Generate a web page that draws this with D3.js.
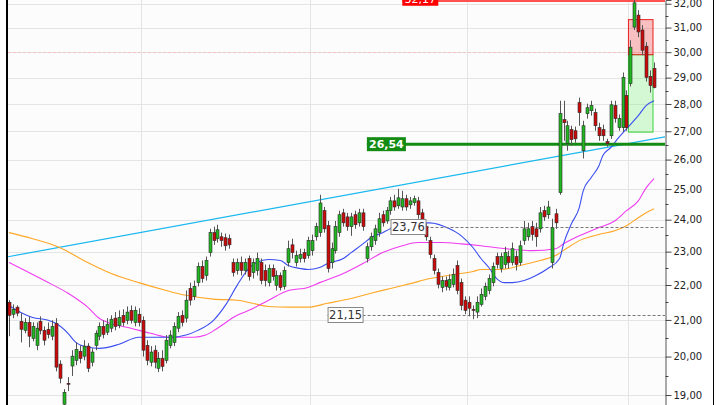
<!DOCTYPE html>
<html><head><meta charset="utf-8">
<script src="https://cdn.jsdelivr.net/npm/d3@7"></script>
<style>html,body{margin:0;padding:0;background:#fff;} svg{display:block;}</style>
</head><body>
<svg id="c" width="720" height="405"></svg>
<script>
// ---------- DATA ----------
const opens = [21.50,21.16,21.36,20.96,20.71,20.93,20.49,20.30,20.96,20.71,20.74,20.55,20.90,19.80,18.77,19.30,19.75,19.90,20.14,20.01,
20.28,19.85,20.30,20.55,20.82,20.66,20.77,21.05,20.85,21.13,20.99,21.27,20.93,21.16,20.99,20.30,19.85,20.17,19.69,19.95,
19.90,20.30,20.38,20.77,21.13,21.05,21.90,21.67,22.07,22.55,22.28,22.97,23.59,23.40,23.46,23.43,23.40,22.67,22.43,22.67,
22.43,22.79,22.37,22.43,22.67,22.43,22.07,22.49,21.99,22.28,21.96,22.67,23.21,22.67,22.79,22.97,22.88,23.03,23.46,23.59,
24.29,23.81,22.67,23.03,23.59,24.22,24.09,23.78,24.16,23.90,24.22,22.79,23.15,23.34,23.59,24.16,23.96,24.29,24.61,24.45,
24.41,24.68,24.48,24.55,24.61,24.22,23.78,23.34,22.79,22.37,21.93,22.13,21.93,22.02,22.58,22.07,21.56,21.50,21.30,21.22,21.44,21.67,
21.84,22.07,22.85,22.49,22.61,22.85,22.67,22.85,22.67,23.34,23.46,23.78,23.71,23.71,24.29,24.16,22.67,24.19,24.88,27.42,
26.56,27.06,27.02,28.05,26.31,27.64,27.75,27.68,27.13,27.06,26.63,26.84,27.94,27.13,27.13,28.32,28.77,31.02,31.52,
30.90,30.24,29.05,29.36];
const highs = [21.56,21.44,21.41,21.19,21.05,21.10,20.93,20.93,21.10,20.82,20.93,20.99,21.05,19.90,19.15,19.46,20.17,20.38,20.30,20.44,
20.36,20.22,20.71,20.93,20.99,21.05,21.13,21.22,21.27,21.30,21.38,21.41,21.38,21.33,21.10,20.44,20.28,20.30,20.12,20.17,
20.58,20.71,20.93,21.22,21.27,21.84,22.07,22.13,22.67,22.73,22.85,23.71,23.78,23.84,23.59,23.56,23.53,22.79,22.79,22.85,
22.79,22.88,22.79,22.97,22.79,22.61,22.61,22.61,22.43,22.37,22.55,23.34,23.40,23.03,23.09,23.09,23.46,23.53,23.90,24.81,
24.41,23.96,23.28,23.96,24.29,24.35,24.22,24.22,24.29,24.35,24.35,23.28,23.59,23.84,24.22,24.29,24.41,24.74,24.81,25.01,
24.94,24.81,24.74,24.78,24.74,24.35,23.90,23.46,22.91,22.49,22.25,22.25,22.31,22.49,22.73,22.19,21.67,21.67,21.41,21.67,21.90,22.07,
22.31,22.67,22.97,22.97,23.15,23.03,23.28,23.03,23.34,23.96,23.90,23.96,23.90,24.41,24.45,24.61,24.03,24.35,28.12,28.12,
27.38,27.20,27.17,28.24,27.38,28.01,28.12,27.83,27.31,27.24,26.73,28.12,28.12,27.61,29.20,28.51,30.48,32.16,31.73,
31.10,30.40,29.28,29.59];
const lows = [20.55,21.05,21.10,20.38,20.63,20.25,20.41,20.17,20.60,20.30,20.49,20.44,19.61,19.30,18.62,19.10,19.49,19.77,19.82,19.90,
19.59,19.74,20.17,20.44,20.49,20.58,20.66,20.71,20.77,20.82,20.88,20.90,20.82,20.82,20.00,19.77,19.74,19.69,19.59,19.61,
19.82,20.22,20.28,20.66,20.82,20.93,21.41,21.56,21.96,22.07,22.13,22.85,23.21,23.28,23.15,23.03,23.09,22.25,22.31,22.28,
22.31,22.13,22.19,22.28,22.02,21.96,21.96,22.13,21.84,21.84,21.87,22.55,22.79,22.55,22.67,22.67,22.79,22.88,23.34,23.46,
23.59,22.37,22.49,22.94,23.46,23.78,23.65,23.49,23.71,23.78,23.65,22.67,23.03,23.21,23.46,23.78,23.87,24.16,24.29,24.35,
24.29,24.29,24.35,24.45,24.03,23.71,23.34,22.79,22.31,21.90,21.79,21.84,21.84,21.93,21.73,21.27,21.16,21.10,21.02,21.05,21.38,21.56,
21.73,21.96,22.49,22.37,22.49,22.49,22.58,22.43,22.58,23.21,23.34,23.34,23.15,23.59,23.96,24.03,22.49,23.71,24.81,26.66,
26.31,26.49,26.59,27.20,26.04,27.46,27.57,27.02,26.66,26.66,26.45,26.73,27.31,27.02,26.98,27.02,28.66,30.90,30.61,
29.88,28.85,28.43,28.59];
const closes = [21.13,21.30,21.19,20.74,20.93,20.55,20.82,20.77,20.71,20.44,20.60,20.82,19.72,19.43,19.07,19.28,20.01,20.19,19.95,20.28,
19.69,20.12,20.63,20.82,20.60,20.88,21.02,20.82,21.07,20.93,21.22,20.99,21.27,20.93,20.17,19.90,20.12,19.85,19.95,19.74,
20.44,20.58,20.82,21.10,20.93,21.56,21.56,21.96,22.55,22.19,22.73,23.59,23.34,23.68,23.34,23.18,23.21,22.37,22.67,22.43,
22.67,22.25,22.67,22.79,22.13,22.13,22.49,22.25,22.28,21.93,22.43,23.09,22.97,22.88,22.91,22.79,23.34,23.34,23.78,24.54,
23.71,22.49,23.09,23.78,24.16,23.90,23.78,24.09,23.84,24.22,23.78,23.15,23.46,23.71,24.03,23.90,24.29,24.61,24.41,24.71,
24.68,24.41,24.61,24.68,24.16,23.90,23.46,22.91,22.43,22.02,22.13,21.96,22.16,22.31,21.84,21.41,21.27,21.33,21.27,21.50,21.73,21.96,
22.19,22.55,22.61,22.85,22.97,22.67,23.09,22.61,23.18,23.71,23.71,23.53,23.46,24.22,24.09,24.41,23.74,23.90,27.64,27.31,
27.20,26.70,26.73,27.68,27.20,27.86,27.94,27.20,26.84,26.84,26.56,27.97,27.46,27.46,29.01,27.13,30.20,32.04,30.82,
30.08,29.01,28.70,28.62];

const yTicks = [19,20,21,22,23,24,25,26,27,28,29,30,31,32];
const monthStarts = [34, 77, 117, 158];

// moving averages (candle index, value)
const maShortIdx = [0,3,6,10,12,15,17,20,23,28,33,41,45,48,52,55,58,61,63,66,69,71,74,76,79,81,85,87,90,92,95,97,100,103,107,112,115,118,120,122,124,126,128,131,134,137,140,141,143,145,146,148,150,151,153,155,157,160,162,164];
const maShort   = [21.41,21.21,21.07,20.99,20.90,20.63,20.38,20.25,20.22,20.33,20.52,20.52,20.58,20.71,20.99,21.41,21.99,22.49,22.67,22.76,22.73,22.58,22.49,22.46,22.52,22.64,22.79,22.97,23.24,23.43,23.59,23.71,23.81,23.90,23.90,23.71,23.49,23.12,22.79,22.52,22.19,22.07,22.07,22.13,22.28,22.49,22.79,23.24,23.87,24.39,24.94,25.38,25.79,26.14,26.42,26.77,27.09,27.57,27.94,28.12];
const maMidIdx = [0,9,15,20,23,26,31,36,41,47,50,53,58,61,66,71,76,79,85,90,95,100,104,110,115,120,124,129,133,139,141,145,150,154,157,160,162,164];
const maMid    = [22.67,22.13,21.76,21.36,21.04,20.90,20.77,20.63,20.52,20.52,20.58,20.77,21.13,21.27,21.56,21.84,21.93,22.07,22.34,22.64,22.97,23.18,23.28,23.28,23.24,23.18,23.12,23.06,23.03,23.09,23.24,23.49,23.75,23.96,24.29,24.61,25.04,25.35];
const maLongIdx = [0,6,13,19,26,33,40,45,52,58,66,71,76,81,87,92,97,102,107,113,118,120,125,130,135,139,142,145,150,154,157,160,162,164];
const maLong    = [23.59,23.40,23.12,22.73,22.34,22.07,21.84,21.70,21.59,21.56,21.38,21.36,21.36,21.47,21.61,21.76,21.90,22.04,22.19,22.31,22.40,22.46,22.46,22.58,22.73,22.88,23.12,23.34,23.53,23.65,23.81,24.06,24.22,24.35];

// trend line anchors (candle index, value)
const trendIdx = [0, 164];
const trendVal = [22.85, 26.73];

// horizontal levels: value, first candle index, style
const levelValues = [32.17, 26.54, 23.76, 21.15];
const levelStart  = [100, 91, 97, 81];
const levelKinds  = ["red", "green", "dashed", "dashed"];

// zone boxes (candle index range, value range)
const zoneIdx = [158, 164];
const redZone = [29.90, 31.33];
const greenZone = [26.97, 29.90];
const alertLevel = 30.0;

// ---------- DRAW ----------
const W = 720, H = 405;
const plotL = 8, plotR = 665, borderR = 713;
const svg = d3.select("#c");
const n = opens.length;
const x = d3.scaleLinear().domain([0, n - 1]).range([9, 654]);
const y = d3.scaleLog().domain([18.75, 32.16]).range([H, 0]);
const step = x(1) - x(0);
const fmt = v => d3.format(".2f")(v).replace(".", ",");

svg.append("rect").attr("width", W).attr("height", H).attr("fill", "#ffffff");
svg.append("rect").attr("x", plotL).attr("y", 0).attr("width", plotR - plotL).attr("height", H).attr("fill", "#fcfcfc");

svg.append("defs").append("clipPath").attr("id", "clip")
  .append("rect").attr("x", plotL).attr("y", 0).attr("width", plotR - plotL).attr("height", H);
const g = svg.append("g").attr("clip-path", "url(#clip)");

// grid
g.selectAll("line.hg").data(yTicks).join("line")
  .attr("x1", plotL).attr("x2", plotR)
  .attr("y1", d => Math.round(y(d)) + 0.5).attr("y2", d => Math.round(y(d)) + 0.5)
  .attr("stroke", "#e4e4e4").attr("stroke-width", 1);
g.selectAll("line.vg").data(monthStarts).join("line")
  .attr("x1", d => Math.round(x(d) - step / 2) + 0.5).attr("x2", d => Math.round(x(d) - step / 2) + 0.5)
  .attr("y1", 0).attr("y2", H)
  .attr("stroke", "#e4e4e4").attr("stroke-width", 1);
g.append("line").attr("x1", plotL).attr("x2", plotR)
  .attr("y1", Math.round(y(alertLevel)) + 0.5).attr("y2", Math.round(y(alertLevel)) + 0.5)
  .attr("stroke", "#f2c4c4").attr("stroke-dasharray", "3,2");

// zones
const zx0 = x(zoneIdx[0]) - step / 2, zx1 = x(zoneIdx[1]) - 1;
g.append("rect").attr("x", zx0).attr("width", zx1 - zx0)
  .attr("y", y(greenZone[1])).attr("height", y(greenZone[0]) - y(greenZone[1]))
  .attr("fill", "rgba(120,235,120,0.30)").attr("stroke", "#3ad23a").attr("stroke-width", 1);
g.append("rect").attr("x", zx0).attr("width", zx1 - zx0)
  .attr("y", y(redZone[1])).attr("height", y(redZone[0]) - y(redZone[1]))
  .attr("fill", "rgba(240,80,80,0.35)").attr("stroke", "#e82020").attr("stroke-width", 1);

// trend line extended to plot edges
const tx0 = x(trendIdx[0]), tx1 = x(trendIdx[1]);
const ty0 = y(trendVal[0]), ty1 = y(trendVal[1]);
const slope = (ty1 - ty0) / (tx1 - tx0);
g.append("line").attr("x1", plotL).attr("y1", ty0 + slope * (plotL - tx0))
  .attr("x2", plotR).attr("y2", ty0 + slope * (plotR - tx0))
  .attr("stroke", "#1ab8f0").attr("stroke-width", 1.2);

// moving averages
const lineGen = d3.line().x(d => x(d[0])).y(d => y(d[1])).curve(d3.curveMonotoneX);
function ma(idx, vals, color) {
  g.append("path").datum(idx.map((d, i) => [d, vals[i]]))
    .attr("d", lineGen).attr("fill", "none").attr("stroke", color).attr("stroke-width", 1.1);
}
ma(maLongIdx, maLong, "#ffa726");
ma(maMidIdx, maMid, "#f03cf0");
ma(maShortIdx, maShort, "#3a4ef0");

// levels (lines)
levelValues.forEach((v, k) => {
  const yy = y(v);
  const kind = levelKinds[k];
  const x0 = x(levelStart[k]);
  if (kind === "red") {
    g.append("line").attr("x1", x0).attr("x2", plotR).attr("y1", Math.max(yy, 1)).attr("y2", Math.max(yy, 1))
      .attr("stroke", "#ff5050").attr("stroke-width", 2);
  } else if (kind === "green") {
    g.append("line").attr("x1", x0).attr("x2", plotR).attr("y1", yy).attr("y2", yy)
      .attr("stroke", "#148c14").attr("stroke-width", 3);
  } else {
    g.append("line").attr("x1", x0).attr("x2", plotR).attr("y1", Math.round(yy) + 0.5).attr("y2", Math.round(yy) + 0.5)
      .attr("stroke", "#777").attr("stroke-width", 1).attr("stroke-dasharray", "3,2");
  }
});

// candles
const idx = d3.range(n);
g.selectAll("line.wick").data(idx).join("line")
  .attr("x1", i => Math.round(x(i)) + 0.5).attr("x2", i => Math.round(x(i)) + 0.5)
  .attr("y1", i => y(highs[i])).attr("y2", i => y(lows[i]))
  .attr("stroke", "#555").attr("stroke-width", 1);
g.selectAll("rect.body").data(idx).join("rect")
  .attr("x", i => Math.round(x(i)) - 1)
  .attr("width", 3)
  .attr("y", i => y(Math.max(opens[i], closes[i])))
  .attr("height", i => Math.max(1, Math.abs(y(opens[i]) - y(closes[i]))))
  .attr("fill", i => closes[i] >= opens[i] ? "#22b822" : "#cc0a0a")
  .attr("stroke", "#2a2a2a").attr("stroke-width", 0.6);

// level labels
levelValues.forEach((v, k) => {
  const yy = y(v);
  const kind = levelKinds[k];
  const x0 = x(levelStart[k]);
  const txt = fmt(v);
  if (kind === "red") {
    g.append("rect").attr("x", x0).attr("y", yy - 7).attr("width", 36).attr("height", 13).attr("fill", "#ff0000");
    g.append("text").attr("x", x0 + 18).attr("y", yy + 3.5).attr("text-anchor", "middle")
      .attr("font-family", "DejaVu Sans").attr("font-size", 11).attr("fill", "#fff").text(txt);
  } else if (kind === "green") {
    g.append("rect").attr("x", x0).attr("y", yy - 7).attr("width", 39).attr("height", 14).attr("fill", "#148c14");
    g.append("text").attr("x", x0 + 19.5).attr("y", yy + 4).attr("text-anchor", "middle")
      .attr("font-family", "DejaVu Sans").attr("font-weight", "bold").attr("font-size", 11).attr("fill", "#ffffff").text(txt);
  } else {
    g.append("rect").attr("x", x0 + 0.5).attr("y", Math.round(yy) - 7.5).attr("width", 35).attr("height", 15)
      .attr("fill", "#ffffff").attr("stroke", "#888").attr("stroke-width", 1);
    g.append("text").attr("x", x0 + 18).attr("y", Math.round(yy) + 4).attr("text-anchor", "middle")
      .attr("font-family", "DejaVu Sans").attr("font-size", 11.5).attr("fill", "#333").text(txt);
  }
});

// frame lines
svg.append("line").attr("x1", 7).attr("x2", 7).attr("y1", 0).attr("y2", H).attr("stroke", "#000").attr("stroke-width", 2);
svg.append("line").attr("x1", borderR + 0.5).attr("x2", borderR + 0.5).attr("y1", 0).attr("y2", H).attr("stroke", "#000").attr("stroke-width", 1);

// right axis
const axis = d3.axisRight(y).tickValues(yTicks).tickFormat(fmt).tickSize(6).tickPadding(2);
const ag = svg.append("g").attr("transform", `translate(${plotR + 0.5},0)`).call(axis);
ag.select(".domain").attr("stroke", "#555");
ag.selectAll(".tick line").attr("stroke", "#444");
ag.selectAll(".tick text").attr("font-family", "DejaVu Sans").attr("font-size", 10).attr("fill", "#222");
const minor = yTicks.slice(0, -1).map(t => t + 0.5);
ag.selectAll("line.minor").data(minor).join("line")
  .attr("x1", 0).attr("x2", 3).attr("y1", d => Math.round(y(d)) + 0.5).attr("y2", d => Math.round(y(d)) + 0.5)
  .attr("stroke", "#444");
</script>
</body></html>
